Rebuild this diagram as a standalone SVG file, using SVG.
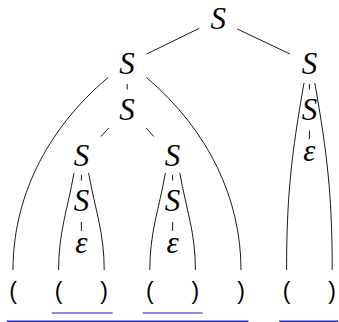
<svg xmlns="http://www.w3.org/2000/svg" width="339" height="322" viewBox="0 0 339 322">
<style>
.s{font-family:'Liberation Serif','Times New Roman',serif;font-style:italic;font-weight:normal;font-size:31px;fill:#000;text-anchor:middle}
.p{font-family:'Liberation Sans',Arial,sans-serif;font-size:23px;fill:#000;text-anchor:middle}
.e{stroke:#000;stroke-width:0.9;fill:none}
.ul1{stroke:#6464e4;stroke-width:1.4}
.ul2{stroke:#2a2ab4;stroke-width:1.4}
</style>
<rect width="339" height="322" fill="#fff"/>
<g id="connectors" class="e">
<line x1="199.3" y1="28.3" x2="146.7" y2="54"/>
<line x1="237.3" y1="29" x2="290" y2="54"/>
<line x1="127.2" y1="84" x2="127.2" y2="89.5"/>
<line x1="108.7" y1="128" x2="101" y2="136.5"/>
<line x1="146.1" y1="128" x2="153.8" y2="136.5"/>
<line x1="81.4" y1="175" x2="81.4" y2="180.5"/>
<line x1="172.6" y1="175" x2="172.6" y2="180.5"/>
<line x1="81.4" y1="222" x2="81.4" y2="231"/>
<line x1="172.6" y1="222" x2="172.6" y2="231"/>
<line x1="309.4" y1="84" x2="309.4" y2="89.5"/>
<line x1="309.4" y1="130.5" x2="309.4" y2="139"/>
<path d="M108.3,77.3 C44.5,131 13,200 13,270"/>
<path d="M146.3,77.3 C209.5,131 241,200 241,270"/>
<path d="M74,173 C67.4,210.4 58.6,232 58.6,270"/>
<path d="M88.6,173 C95.2,210.4 104.2,232 104.2,270"/>
<path d="M165.4,173 C158.8,210.4 149.8,232 149.8,270"/>
<path d="M179.8,173 C186.4,210.4 195.4,232 195.4,270"/>
<path d="M304,83 C291.3,154.9 286.6,197 286.6,270"/>
<path d="M314.8,83 C327.5,154.9 332.2,197 332.2,270"/>
</g>
<g id="n-root"><text class="s" x="218.2" y="28.5">S</text></g>
<g id="n-l1"><text class="s" x="127" y="74">S</text></g>
<g id="n-r1"><text class="s" x="309.4" y="74">S</text></g>
<g id="n-l2"><text class="s" x="127" y="119.5">S</text></g>
<g id="n-r2"><text class="s" x="309.4" y="119.5">S</text></g>
<g id="n-r3"><text class="s" x="309.4" y="161">ε</text></g>
<g id="n-a3"><text class="s" x="81.4" y="165.5">S</text></g>
<g id="n-b3"><text class="s" x="172.6" y="165.5">S</text></g>
<g id="n-a4"><text class="s" x="81.4" y="211">S</text></g>
<g id="n-b4"><text class="s" x="172.6" y="211">S</text></g>
<g id="n-a5"><text class="s" x="81.4" y="252.5">ε</text></g>
<g id="n-b5"><text class="s" x="172.6" y="252.5">ε</text></g>
<g id="leaves">
<text class="p" x="13" y="299">(</text>
<text class="p" x="58.6" y="299">(</text>
<text class="p" x="104.2" y="299">)</text>
<text class="p" x="149.8" y="299">(</text>
<text class="p" x="195.4" y="299">)</text>
<text class="p" x="241" y="299">)</text>
<text class="p" x="286.6" y="299">(</text>
<text class="p" x="332.2" y="299">)</text>
</g>
<g id="underlines">
<line class="ul1" x1="51.7" y1="313" x2="112.7" y2="313"/>
<line class="ul1" x1="142.7" y1="313" x2="202.7" y2="313"/>
<line class="ul2" x1="6.7" y1="321.2" x2="248.3" y2="321.2"/>
<line class="ul2" x1="279.3" y1="321.2" x2="338.3" y2="321.2"/>
</g>
</svg>
